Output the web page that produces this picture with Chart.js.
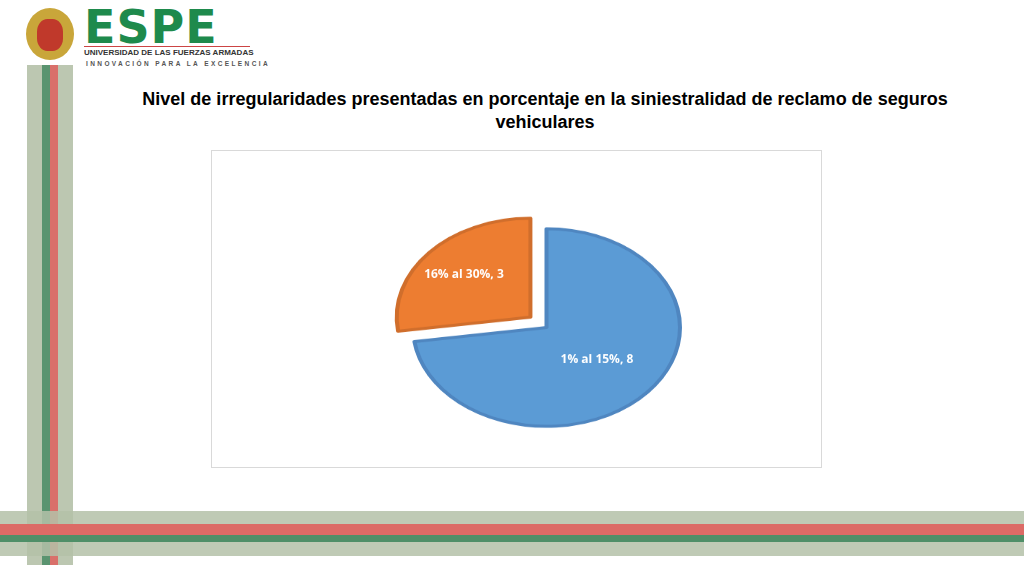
<!DOCTYPE html>
<html>
<head>
<meta charset="UTF-8">
<title>Nivel de irregularidades</title>
<script src="https://cdn.jsdelivr.net/npm/chart.js@4/dist/chart.umd.min.js"></script>
<style>
  body { margin:0; width:1024px; height:576px; position:relative; background:#fff; overflow:hidden; font-family:"Liberation Sans", Arial, sans-serif; }
  .s { position:absolute; }
  #title { position:absolute; left:100px; top:88px; width:890px; text-align:center; font-weight:bold; font-size:18px; line-height:23px; color:#000; }
  #box { position:absolute; left:211px; top:150px; width:609px; height:316px; border:1px solid #d9d9d9; overflow:hidden; }
  #wrap { position:absolute; left:0; top:-55px; width:609px; height:426px; transform:scaleY(0.74); transform-origin:50% 50%; }
</style>
</head>
<body>
  <!-- slide decoration -->
  <div class="s" style="left:27px;top:65px;width:46px;height:500px;background:#bcc7b1"></div>
  <div class="s" style="left:42px;top:65px;width:8px;height:500px;background:#5a9470"></div>
  <div class="s" style="left:50px;top:65px;width:8px;height:500px;background:#d9706a"></div>
  <div class="s" style="left:0;top:511px;width:1024px;height:45px;background:rgba(180,193,168,0.85)"></div>
  <div class="s" style="left:0;top:524px;width:1024px;height:11px;background:#dc6b66"></div>
  <div class="s" style="left:0;top:535px;width:1024px;height:7px;background:#4f8f68"></div>
  <!-- logo -->
  <div class="s" style="left:26px;top:8px;width:48px;height:52px;border-radius:50%;background:#c9a63a"></div>
  <div class="s" style="left:37px;top:19px;width:26px;height:32px;border-radius:40%;background:#c0392b"></div>
  <div class="s" style="left:84px;top:4px;font-size:46px;line-height:46px;font-weight:bold;color:#1e8a4c;letter-spacing:1px;font-family:'DejaVu Sans'">ESPE</div>
  <div class="s" style="left:84px;top:46px;width:166px;height:1px;background:#c44"></div>
  <div class="s" style="left:84px;top:48px;font-size:8px;font-weight:bold;color:#333">UNIVERSIDAD DE LAS FUERZAS ARMADAS</div>
  <div class="s" style="left:86px;top:60px;font-size:6.5px;font-weight:bold;color:#555;letter-spacing:2.4px">INNOVACIÓN PARA LA EXCELENCIA</div>

  <div id="title">Nivel de irregularidades presentadas en porcentaje en la siniestralidad de reclamo de seguros vehiculares</div>
  <div id="box"><div id="wrap"><canvas id="pie" width="609" height="426"></canvas></div></div>
<script>
const categories = ["1% al 15%", "16% al 30%"];
const values = [8, 3];
const fills = ["#5b9bd5", "#ed7d31"];
const borders = ["#4f86c0", "#d06e2c"];
const squash = 0.74;

const labelPlugin = {
  id: 'sliceLabels',
  afterDatasetsDraw(chart) {
    const ctx = chart.ctx;
    chart.getDatasetMeta(0).data.forEach((arc, i) => {
      const p = arc.tooltipPosition();
      ctx.save();
      ctx.translate(p.x, p.y);
      ctx.scale(1, 1 / squash);
      ctx.fillStyle = '#ffffff';
      ctx.font = 'bold 12px "Open Sans", sans-serif';
      ctx.textAlign = 'center';
      ctx.textBaseline = 'middle';
      ctx.fillText(categories[i] + ', ' + values[i], 0, 0);
      ctx.restore();
    });
  }
};

new Chart(document.getElementById('pie'), {
  type: 'pie',
  data: {
    labels: categories,
    datasets: [{
      data: values,
      backgroundColor: fills,
      borderColor: borders,
      borderWidth: 4,
      offset: [0, 85],
      borderJoinStyle: 'round'
    }]
  },
  options: {
    responsive: false,
    animation: false,
    layout: { padding: { top: 60, bottom: 10, left: 125, right: 65 } },
    plugins: { legend: { display: false }, tooltip: { enabled: false } }
  },
  plugins: [labelPlugin]
});
</script>
</body>
</html>
